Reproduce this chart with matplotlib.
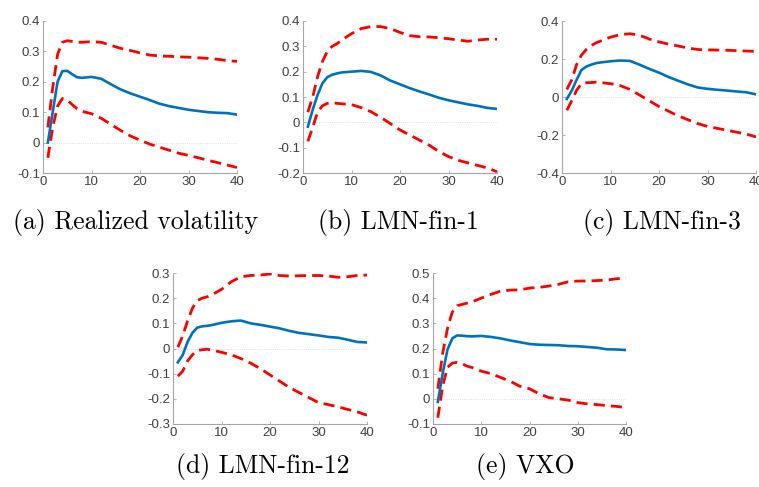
import matplotlib
matplotlib.use("Agg")
import matplotlib.pyplot as plt
from matplotlib.ticker import FuncFormatter, MultipleLocator

# Horizons (months) at which values were read
horizons = [1, 2, 3, 4, 5, 6, 7, 8, 10, 12, 14, 16, 18, 20, 22, 24, 26, 28, 30, 32, 34, 36, 38, 40]

# (a) Realized volatility
rv_irf = [0.0, 0.1, 0.2, 0.235, 0.236, 0.225, 0.215, 0.213, 0.216, 0.21, 0.192, 0.175, 0.162, 0.151,
          0.14, 0.128, 0.12, 0.114, 0.108, 0.104, 0.1, 0.098, 0.097, 0.092]
rv_up = [0.05, 0.18, 0.29, 0.33, 0.335, 0.333, 0.33, 0.33, 0.332, 0.33, 0.32, 0.31, 0.303, 0.295,
         0.288, 0.285, 0.284, 0.282, 0.281, 0.279, 0.277, 0.274, 0.27, 0.267]
rv_lo = [-0.05, 0.05, 0.12, 0.145, 0.14, 0.125, 0.112, 0.103, 0.095, 0.08, 0.06, 0.04, 0.022, 0.008,
         -0.005, -0.015, -0.025, -0.035, -0.042, -0.05, -0.058, -0.066, -0.074, -0.082]

# (b) LMN-fin-1
f1_irf = [-0.017, 0.05, 0.108, 0.154, 0.178, 0.188, 0.193, 0.197, 0.2, 0.203, 0.199, 0.185, 0.165, 0.15,
          0.135, 0.122, 0.11, 0.097, 0.087, 0.079, 0.071, 0.065, 0.057, 0.053]
f1_up = [0.04, 0.1, 0.18, 0.24, 0.28, 0.3, 0.31, 0.325, 0.35, 0.37, 0.378, 0.378, 0.37, 0.355,
         0.342, 0.338, 0.337, 0.334, 0.33, 0.325, 0.32, 0.325, 0.328, 0.328]
f1_lo = [-0.075, -0.02, 0.04, 0.065, 0.075, 0.078, 0.075, 0.073, 0.07, 0.058, 0.042, 0.02, -0.005, -0.03,
         -0.05, -0.07, -0.09, -0.115, -0.135, -0.15, -0.16, -0.17, -0.18, -0.195]

# (c) LMN-fin-3
f3_irf = [-0.01, 0.033, 0.09, 0.142, 0.16, 0.17, 0.178, 0.182, 0.188, 0.192, 0.19, 0.17, 0.148, 0.128,
          0.105, 0.085, 0.066, 0.05, 0.043, 0.038, 0.034, 0.029, 0.025, 0.014]
f3_up = [0.04, 0.09, 0.17, 0.22, 0.25, 0.27, 0.285, 0.295, 0.315, 0.328, 0.333, 0.325, 0.305, 0.29,
         0.278, 0.268, 0.258, 0.25, 0.248, 0.247, 0.246, 0.244, 0.242, 0.24]
f3_lo = [-0.07, -0.02, 0.035, 0.07, 0.075, 0.076, 0.078, 0.076, 0.07, 0.06, 0.04, 0.01, -0.02, -0.05,
         -0.075, -0.1, -0.12, -0.14, -0.155, -0.165, -0.175, -0.185, -0.195, -0.21]

# (d) LMN-fin-12
f12_irf = [-0.055, -0.026, 0.026, 0.062, 0.083, 0.088, 0.09, 0.093, 0.102, 0.108, 0.111, 0.1, 0.094, 0.087,
           0.08, 0.07, 0.062, 0.057, 0.052, 0.046, 0.043, 0.035, 0.026, 0.024]
f12_up = [0.005, 0.05, 0.11, 0.16, 0.19, 0.2, 0.205, 0.213, 0.235, 0.265, 0.285, 0.29, 0.292, 0.296,
          0.29, 0.288, 0.289, 0.29, 0.29, 0.288, 0.283, 0.285, 0.29, 0.292]
f12_lo = [-0.11, -0.09, -0.05, -0.025, -0.008, -0.005, -0.003, -0.006, -0.015, -0.025, -0.04, -0.058, -0.08, -0.105,
          -0.13, -0.155, -0.175, -0.195, -0.215, -0.223, -0.232, -0.242, -0.252, -0.265]

# (e) VXO
vxo_irf = [-0.012, 0.1, 0.196, 0.24, 0.252, 0.251, 0.249, 0.248, 0.25, 0.246, 0.24, 0.232, 0.225, 0.218,
           0.215, 0.214, 0.213, 0.21, 0.209, 0.206, 0.203, 0.197, 0.196, 0.194]
vxo_up = [0.04, 0.18, 0.28, 0.345, 0.37, 0.375, 0.38, 0.385, 0.4, 0.415, 0.428, 0.432, 0.433, 0.44,
          0.443, 0.448, 0.455, 0.465, 0.468, 0.468, 0.47, 0.472, 0.477, 0.48]
vxo_lo = [-0.075, 0.05, 0.125, 0.142, 0.145, 0.14, 0.13, 0.125, 0.11, 0.1, 0.085, 0.07, 0.05, 0.04,
          0.02, 0.005, 0.0, -0.005, -0.015, -0.02, -0.023, -0.027, -0.03, -0.035]

captions = ["(a) Realized volatility", "(b) LMN-fin-1", "(c) LMN-fin-3", "(d) LMN-fin-12", "(e) VXO"]
ylims = [(-0.1, 0.4), (-0.2, 0.4), (-0.4, 0.4), (-0.3, 0.3), (-0.1, 0.5)]
ysteps = [0.1, 0.1, 0.2, 0.1, 0.1]
xticks = [0, 10, 20, 30, 40]

panels = [(rv_irf, rv_up, rv_lo), (f1_irf, f1_up, f1_lo), (f3_irf, f3_up, f3_lo),
          (f12_irf, f12_up, f12_lo), (vxo_irf, vxo_up, vxo_lo)]

W, H = 759, 487
fig = plt.figure(figsize=(W / 100, H / 100), dpi=100)

# axes boxes in pixels: left, top, right, bottom
boxes = [(43, 21, 237, 173), (303, 21, 497, 173), (562, 21, 756, 173),
         (173, 273, 367, 424), (433, 273, 626, 424)]
cap_pos = [(136, 222), (398, 222), (662, 222), (263, 467), (525, 467)]

fmt = FuncFormatter(lambda v, p: ("%g" % round(v, 4)).replace("\u2212", "-"))

for i, (irf, up, lo) in enumerate(panels):
    l, t, r, b = boxes[i]
    ax = fig.add_axes([l / W, 1 - b / H, (r - l) / W, (b - t) / H])
    ax.axhline(0, color="#d4d4d4", lw=0.6, ls=":", zorder=1)
    ax.plot(horizons, up, color="#FF0000", lw=2.0, dashes=(4, 2.2), zorder=2)
    ax.plot(horizons, lo, color="#FF0000", lw=2.0, dashes=(4, 2.2), zorder=2)
    ax.plot(horizons, irf, color="#0072BD", lw=1.9, zorder=3)
    ax.set_xlim(0, 40)
    ax.set_ylim(*ylims[i])
    ax.set_xticks(xticks)
    ax.yaxis.set_major_locator(MultipleLocator(ysteps[i]))
    ax.yaxis.set_major_formatter(fmt)
    for s in ("top", "right"):
        ax.spines[s].set_visible(False)
    for s in ("left", "bottom"):
        ax.spines[s].set_color("#a6a6a6")
        ax.spines[s].set_linewidth(0.8)
    ax.tick_params(direction="in", length=2.5, width=0.6, color="#a6a6a6",
                   labelsize=9.5, labelcolor="#404040", pad=2)
    for lab in ax.get_xticklabels() + ax.get_yticklabels():
        lab.set_fontfamily("Liberation Sans")
    cx, cy = cap_pos[i]
    fig.text(cx / W, 1 - cy / H, captions[i], ha="center", va="center",
             fontsize=18.5, family="cmr10", color="black")

fig.savefig("out.png", dpi=100)
